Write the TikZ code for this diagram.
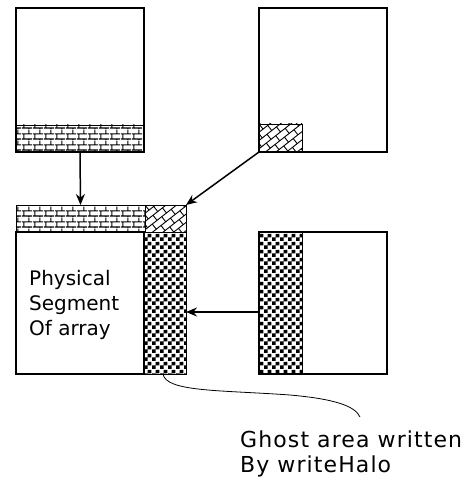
\documentclass[tikz,border=0pt]{standalone}
\usepackage{fontspec}
\setmainfont{DejaVu Sans}
\usetikzlibrary{patterns.meta,arrows.meta}
\pgfdeclarepattern{
  name=mybrick, type=uncolored,
  bottom left={\pgfpoint{0pt}{0pt}}, top right={\pgfpoint{11pt}{11pt}},
  tile size={\pgfpoint{11pt}{11pt}},
  code={
    \pgfsetlinewidth{1.2pt}
    \pgfpathmoveto{\pgfpoint{0pt}{1pt}}\pgfpathlineto{\pgfpoint{11pt}{1pt}}
    \pgfpathmoveto{\pgfpoint{0pt}{6.5pt}}\pgfpathlineto{\pgfpoint{11pt}{6.5pt}}
    \pgfpathmoveto{\pgfpoint{2pt}{1pt}}\pgfpathlineto{\pgfpoint{2pt}{6.5pt}}
    \pgfpathmoveto{\pgfpoint{7.5pt}{6.5pt}}\pgfpathlineto{\pgfpoint{7.5pt}{11pt}}
    \pgfpathmoveto{\pgfpoint{7.5pt}{0pt}}\pgfpathlineto{\pgfpoint{7.5pt}{1pt}}
    \pgfusepath{stroke}
  }
}
\pgfdeclarepattern{
  name=mychecker, type=uncolored,
  bottom left={\pgfpoint{0pt}{0pt}}, top right={\pgfpoint{8pt}{8pt}},
  tile size={\pgfpoint{8pt}{8pt}},
  code={
    \pgfpathrectangle{\pgfpoint{0pt}{0pt}}{\pgfpoint{4pt}{4pt}}
    \pgfpathrectangle{\pgfpoint{4pt}{4pt}}{\pgfpoint{4pt}{4pt}}
    \pgfusepath{fill}
  }
}
\tikzset{
  bigbox/.style={draw, line width=2.8pt, inner sep=0pt, outer sep=0pt, anchor=north west},
  band/.style={draw, line width=0.9pt, inner sep=0pt, outer sep=0pt, anchor=north west},
  brickfill/.style={pattern=mybrick, pattern color=black},
  checkfill/.style={pattern=mychecker, pattern color=black},
  arr/.style={line width=1.5pt, -{Stealth[length=11pt,width=9pt]}},
  lbl/.style={font=\fontsize{20}{25}\selectfont, align=left, inner sep=0pt},
}
\newcommand{\diagbricks}[4]{%
  \begin{scope}
    \clip (#1,#2) rectangle (#3,#4);
    \begin{scope}[shift={(#1,#2)}, rotate=38, line width=0.9pt]
      \foreach \r in {-14,...,14}{
        \draw ({-80},{\r*6.5}) -- (80,{\r*6.5});
        \foreach \c in {-8,...,8}{
          \draw ({\c*12 + mod(abs(\r),2)*6},{\r*6.5}) -- ++(0,6.5);
        }
      }
    \end{scope}
  \end{scope}}
\begin{document}
\begin{tikzpicture}[x=1pt,y=-1pt]
\useasboundingbox (0,0) rectangle (470,481);
% top left
\node[band, brickfill, minimum width=128pt, minimum height=27pt] (tlhalo) at (16,125) {};
\node[bigbox, minimum width=128pt, minimum height=144pt] (tlbox) at (16,8) {};
% top right
\diagbricks{259}{124}{302}{152}
\node[band, minimum width=43pt, minimum height=28pt] (trhalo) at (259,124) {};
\node[bigbox, minimum width=128pt, minimum height=144pt] (trbox) at (259,8) {};
% middle left
\node[band, brickfill, minimum width=129pt, minimum height=27pt] (mtop) at (16,205) {};
\diagbricks{145}{205}{186}{232}
\node[band, minimum width=41pt, minimum height=27pt] (mcorner) at (145,205) {};
\node[band, checkfill, minimum width=42pt, minimum height=142pt] (mchk) at (144,232) {};
\node[bigbox, minimum width=128pt, minimum height=142pt] (mbox) at (16,232) {};
% middle right
\node[band, checkfill, minimum width=43pt, minimum height=142pt] (rchk) at (259,232) {};
\node[bigbox, minimum width=128pt, minimum height=142pt] (rbox) at (259,232) {};
% text
\node[lbl, anchor=base west] (phys) at (29,335) {Physical\\Segment\\Of array};
\node[lbl, anchor=base west, font=\fontsize{22}{25}\selectfont\addfontfeature{LetterSpace=5}] (ghost) at (240,472) {Ghost area written\\By writeHalo};
% connectors
\draw[arr] (tlhalo.south) -- (mtop.north);
\draw[arr] (trhalo.south west) -- (mcorner.north east);
\draw[arr] ([yshift=-9pt]rchk.west) -- ([yshift=-9pt]mchk.east);
\coordinate (cend) at (360,417);
\draw[line width=0.8pt] ([xshift=-2pt]mchk.south) .. controls (166,392) and (220,390) .. (290,395) .. controls (335,399) and (355,406) .. (cend);
\end{tikzpicture}
\end{document}
